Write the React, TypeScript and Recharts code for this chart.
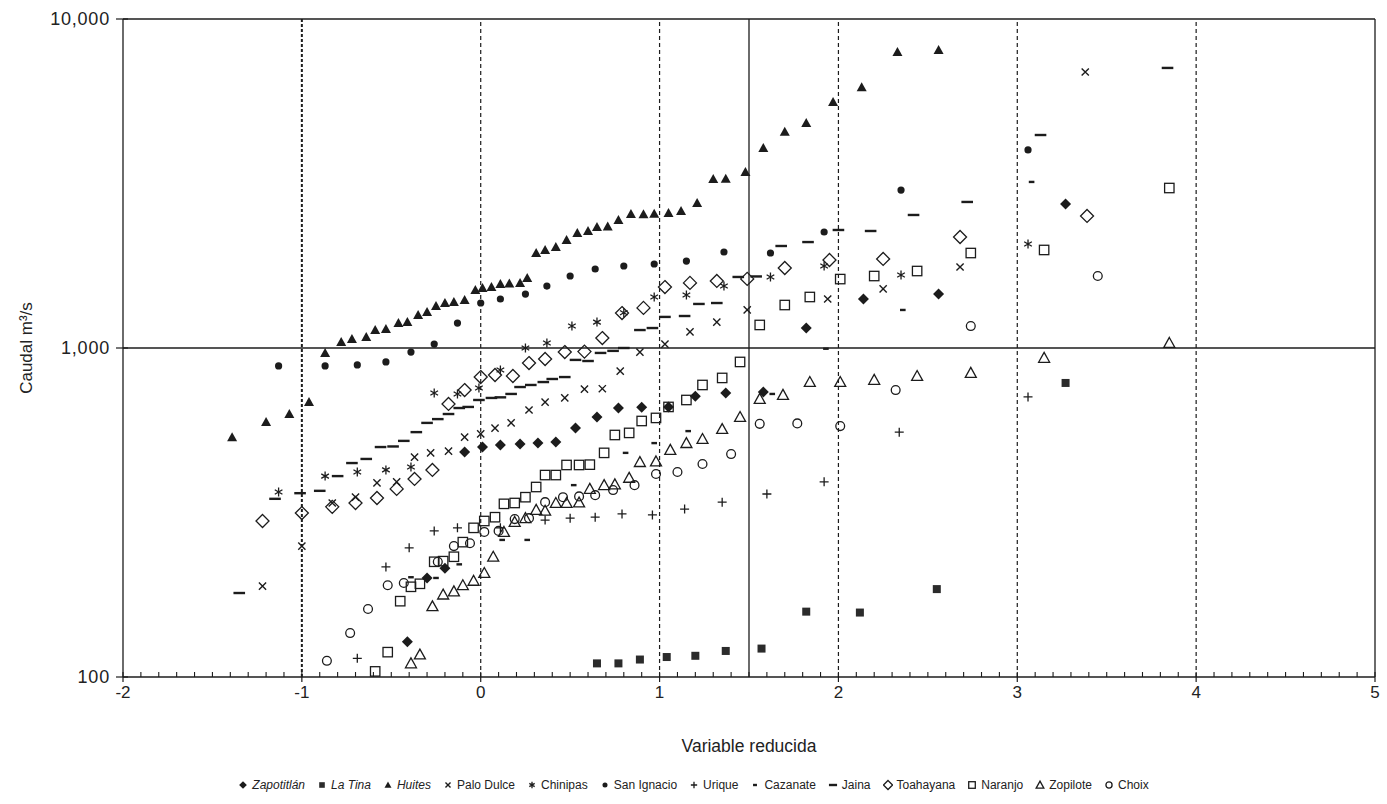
import React from 'react';
import { ScatterChart, Scatter, XAxis, YAxis, ReferenceLine } from 'recharts';

const W = 1387;
const H = 804;
const PLOT_LEFT = 123;
const PLOT_RIGHT = 1375;
const PLOT_TOP = 19;
const PLOT_BOTTOM = 677;
const INK = '#1c1c1c';
const FONT = '"Liberation Sans", Arial, Helvetica, sans-serif';

// Variable reducida (x) and Caudal m3/s (y) per station
const zapotitlanX = [-0.41, -0.3, -0.2, -0.09, 0.01, 0.11, 0.22, 0.32, 0.42, 0.53, 0.65, 0.77, 0.9, 1.05, 1.2, 1.37, 1.58, 1.82, 2.14, 2.56, 3.27];
const zapotitlanY = [128, 200, 214, 483, 500, 507, 511, 514, 518, 571, 617, 657, 660, 662, 714, 730, 735, 1150, 1409, 1459, 2740];

const laTinaX = [0.65, 0.77, 0.89, 1.04, 1.2, 1.37, 1.57, 1.82, 2.12, 2.55, 3.27];
const laTinaY = [110, 110, 113, 115, 116, 120, 122, 158, 157, 185, 783];

const huitesX = [-1.39, -1.2, -1.07, -0.96, -0.87, -0.78, -0.72, -0.64, -0.59, -0.53, -0.46, -0.41, -0.35, -0.3, -0.25, -0.2, -0.15, -0.09, -0.03, 0.01, 0.06, 0.11, 0.16, 0.22, 0.26, 0.31, 0.36, 0.42, 0.48, 0.54, 0.6, 0.65, 0.71, 0.77, 0.84, 0.91, 0.97, 1.05, 1.12, 1.21, 1.3, 1.37, 1.48, 1.58, 1.7, 1.82, 1.97, 2.13, 2.33, 2.56];
const huitesY = [535, 596, 630, 685, 966, 1043, 1065, 1080, 1134, 1142, 1191, 1199, 1260, 1286, 1342, 1370, 1380, 1400, 1500, 1521, 1532, 1566, 1570, 1577, 1633, 1944, 1986, 2028, 2128, 2236, 2268, 2333, 2340, 2449, 2554, 2550, 2560, 2572, 2609, 2759, 3265, 3270, 3428, 4055, 4539, 4830, 5597, 6200, 7943, 8050];

const paloDulceX = [-1.22, -1.0, -0.83, -0.7, -0.58, -0.47, -0.37, -0.28, -0.18, -0.09, 0.0, 0.08, 0.17, 0.27, 0.36, 0.47, 0.58, 0.68, 0.78, 0.89, 1.03, 1.17, 1.32, 1.49, 1.94, 2.25, 2.68, 3.38];
const paloDulceY = [189, 250, 338, 352, 389, 392, 466, 480, 486, 536, 548, 571, 592, 648, 685, 705, 750, 752, 851, 972, 1028, 1119, 1199, 1305, 1409, 1512, 1763, 6900];

const chinipasX = [-1.13, -0.87, -0.69, -0.53, -0.39, -0.26, -0.13, -0.01, 0.11, 0.25, 0.37, 0.51, 0.65, 0.8, 0.97, 1.15, 1.36, 1.62, 1.92, 2.35, 3.06];
const chinipasY = [365, 408, 420, 426, 435, 730, 725, 756, 857, 1000, 1036, 1166, 1199, 1280, 1429, 1449, 1543, 1644, 1775, 1667, 2070];

const sanIgnacioX = [-1.13, -0.87, -0.69, -0.53, -0.39, -0.26, -0.13, 0.0, 0.11, 0.25, 0.37, 0.5, 0.64, 0.8, 0.97, 1.15, 1.36, 1.62, 1.92, 2.35, 3.06];
const sanIgnacioY = [882, 882, 888, 907, 972, 1028, 1191, 1370, 1409, 1459, 1543, 1655, 1738, 1775, 1800, 1838, 1958, 1944, 2252, 3020, 4000];

const uriqueX = [-0.69, -0.53, -0.4, -0.26, -0.13, 0.11, 0.36, 0.5, 0.64, 0.79, 0.96, 1.14, 1.35, 1.6, 1.92, 2.34, 3.06];
const uriqueY = [114, 216, 247, 278, 284, 284, 300, 304, 306, 313, 311, 324, 340, 360, 392, 555, 710];

const cazanateX = [-0.39, -0.25, -0.12, 0.12, 0.26, 0.52, 0.81, 0.97, 1.16, 1.63, 1.93, 2.36, 3.08];
const cazanateY = [201, 200, 220, 261, 261, 383, 480, 514, 559, 725, 995, 1305, 3197];

const jainaX = [-1.35, -1.15, -1.01, -0.9, -0.8, -0.72, -0.64, -0.56, -0.49, -0.43, -0.36, -0.3, -0.24, -0.18, -0.12, -0.07, -0.01, 0.06, 0.11, 0.17, 0.22, 0.28, 0.35, 0.4, 0.47, 0.53, 0.6, 0.67, 0.74, 0.8, 0.89, 0.96, 1.03, 1.14, 1.22, 1.32, 1.44, 1.54, 1.68, 1.83, 2.0, 2.18, 2.42, 2.72, 3.13, 3.84];
const jainaY = [180, 348, 362, 368, 408, 447, 460, 500, 502, 522, 555, 592, 608, 630, 657, 662, 695, 705, 708, 725, 761, 772, 788, 805, 816, 920, 913, 966, 980, 1000, 1134, 1150, 1243, 1251, 1361, 1370, 1644, 1650, 2042, 2099, 2284, 2268, 2537, 2779, 4440, 7100];

const toahayanaX = [-1.22, -1.0, -0.83, -0.7, -0.58, -0.47, -0.37, -0.27, -0.18, -0.09, 0.0, 0.08, 0.18, 0.27, 0.36, 0.47, 0.58, 0.68, 0.79, 0.91, 1.03, 1.17, 1.32, 1.49, 1.7, 1.95, 2.25, 2.68, 3.39];
const toahayanaY = [298, 315, 329, 338, 350, 373, 400, 426, 676, 745, 816, 828, 822, 900, 926, 972, 975, 1072, 1277, 1324, 1532, 1577, 1599, 1622, 1750, 1851, 1865, 2175, 2520];

const naranjoX = [-0.59, -0.52, -0.45, -0.39, -0.34, -0.26, -0.21, -0.15, -0.1, -0.04, 0.02, 0.08, 0.13, 0.19, 0.25, 0.31, 0.36, 0.42, 0.48, 0.55, 0.61, 0.69, 0.75, 0.83, 0.9, 0.98, 1.05, 1.15, 1.24, 1.35, 1.45, 1.56, 1.7, 1.84, 2.01, 2.2, 2.44, 2.74, 3.15, 3.85];
const naranjoY = [104, 119, 170, 188, 192, 224, 225, 232, 257, 284, 298, 306, 336, 338, 352, 378, 411, 411, 441, 441, 442, 480, 544, 552, 600, 613, 662, 695, 772, 811, 907, 1175, 1351, 1429, 1620, 1655, 1714, 1944, 1986, 3064];

const zopiloteX = [-0.39, -0.34, -0.27, -0.21, -0.15, -0.1, -0.04, 0.02, 0.07, 0.13, 0.19, 0.25, 0.31, 0.36, 0.42, 0.48, 0.55, 0.61, 0.69, 0.75, 0.83, 0.89, 0.98, 1.06, 1.15, 1.24, 1.35, 1.45, 1.56, 1.69, 1.84, 2.01, 2.2, 2.44, 2.74, 3.15, 3.85];
const zopiloteY = [110, 117, 164, 178, 182, 190, 196, 207, 232, 276, 296, 304, 322, 320, 338, 338, 339, 373, 383, 385, 403, 450, 452, 490, 514, 529, 567, 617, 700, 720, 788, 788, 800, 822, 840, 933, 1036];

const choixX = [-0.86, -0.73, -0.63, -0.52, -0.43, -0.24, -0.15, -0.06, 0.02, 0.1, 0.19, 0.27, 0.36, 0.46, 0.55, 0.64, 0.74, 0.86, 0.98, 1.1, 1.24, 1.4, 1.56, 1.77, 2.01, 2.32, 2.74, 3.45];
const choixY = [112, 136, 161, 190, 193, 224, 250, 255, 276, 278, 302, 304, 340, 352, 354, 357, 370, 383, 414, 420, 444, 476, 588, 590, 579, 745, 1166, 1655];

const xMajorTicks = [-2, -1, 0, 1, 2, 3, 4, 5];
const yTicks = [100, 1000, 10000];
const dashedGridX = [-1, 0, 1, 2, 3, 4];

// minor ticks every 0.1 along the x axis
const xAllTicks = Array.from({ length: 71 }, (_, i) => (i - 20) / 10);

type Kind =
  | 'diamondFill' | 'squareFill' | 'triangleFill' | 'cross' | 'star' | 'dot' | 'plus'
  | 'dashShort' | 'dashLong' | 'diamond' | 'square' | 'triangle' | 'circle';

const series: { name: string; kind: Kind; italic?: boolean; x: number[]; y: number[] }[] = [
  { name: 'Zapotitlán', kind: 'diamondFill', italic: true, x: zapotitlanX, y: zapotitlanY },
  { name: 'La Tina', kind: 'squareFill', italic: true, x: laTinaX, y: laTinaY },
  { name: 'Huites', kind: 'triangleFill', italic: true, x: huitesX, y: huitesY },
  { name: 'Palo Dulce', kind: 'cross', x: paloDulceX, y: paloDulceY },
  { name: 'Chinipas', kind: 'star', x: chinipasX, y: chinipasY },
  { name: 'San Ignacio', kind: 'dot', x: sanIgnacioX, y: sanIgnacioY },
  { name: 'Urique', kind: 'plus', x: uriqueX, y: uriqueY },
  { name: 'Cazanate', kind: 'dashShort', x: cazanateX, y: cazanateY },
  { name: 'Jaina', kind: 'dashLong', x: jainaX, y: jainaY },
  { name: 'Toahayana', kind: 'diamond', x: toahayanaX, y: toahayanaY },
  { name: 'Naranjo', kind: 'square', x: naranjoX, y: naranjoY },
  { name: 'Zopilote', kind: 'triangle', x: zopiloteX, y: zopiloteY },
  { name: 'Choix', kind: 'circle', x: choixX, y: choixY },
];

function Marker({ cx, cy, kind, s = 1 }: { cx: number; cy: number; kind: Kind; s?: number }) {
  const sw = 1.3;
  switch (kind) {
    case 'diamondFill': {
      const r = 5.5 * s;
      return <path d={`M${cx} ${cy - r}L${cx + r} ${cy}L${cx} ${cy + r}L${cx - r} ${cy}Z`} fill={INK} />;
    }
    case 'squareFill': {
      const r = 4 * s;
      return <rect x={cx - r} y={cy - r} width={2 * r} height={2 * r} fill="#2b2b2b" />;
    }
    case 'triangleFill': {
      const r = 5 * s;
      return <path d={`M${cx} ${cy - r}L${cx + r} ${cy + r * 0.8}L${cx - r} ${cy + r * 0.8}Z`} fill={INK} />;
    }
    case 'cross': {
      const r = 3.6 * s;
      return <path d={`M${cx - r} ${cy - r}L${cx + r} ${cy + r}M${cx + r} ${cy - r}L${cx - r} ${cy + r}`} stroke={INK} strokeWidth={1.4} fill="none" />;
    }
    case 'star': {
      const r = 4.5 * s;
      return (
        <path
          d={`M${cx} ${cy - r}V${cy + r}M${cx - r * 0.85} ${cy - r * 0.5}L${cx + r * 0.85} ${cy + r * 0.5}M${cx + r * 0.85} ${cy - r * 0.5}L${cx - r * 0.85} ${cy + r * 0.5}`}
          stroke={INK}
          strokeWidth={1.3}
          fill="none"
        />
      );
    }
    case 'dot':
      return <circle cx={cx} cy={cy} r={3.6 * s} fill={INK} />;
    case 'plus': {
      const r = 4.5 * s;
      return <path d={`M${cx - r} ${cy}H${cx + r}M${cx} ${cy - r}V${cy + r}`} stroke={INK} strokeWidth={1.3} fill="none" />;
    }
    case 'dashShort':
      return <rect x={cx - 2.8 * s} y={cy - 1.2} width={5.6 * s} height={2.4} fill={INK} />;
    case 'dashLong':
      return <rect x={cx - 5.8 * s} y={cy - 1.2} width={11.6 * s} height={2.4} fill={INK} />;
    case 'diamond': {
      const r = 6.5 * s;
      return <path d={`M${cx} ${cy - r}L${cx + r} ${cy}L${cx} ${cy + r}L${cx - r} ${cy}Z`} stroke={INK} strokeWidth={sw} fill="none" />;
    }
    case 'square': {
      const r = 4.7 * s;
      return <rect x={cx - r} y={cy - r} width={2 * r} height={2 * r} stroke={INK} strokeWidth={sw} fill="none" />;
    }
    case 'triangle': {
      const r = 5.5 * s;
      return <path d={`M${cx} ${cy - r}L${cx + r} ${cy + r * 0.8}L${cx - r} ${cy + r * 0.8}Z`} stroke={INK} strokeWidth={sw} fill="none" />;
    }
    case 'circle':
      return <circle cx={cx} cy={cy} r={4.4 * s} stroke={INK} strokeWidth={sw} fill="none" />;
  }
  return null;
}

function XTick(props: any) {
  const { x, payload } = props;
  const v = payload.value as number;
  const major = xMajorTicks.includes(v);
  return (
    <g>
      <line x1={x} x2={x} y1={PLOT_BOTTOM} y2={PLOT_BOTTOM - 5} stroke={INK} strokeWidth={1.1} />
      {major && <line x1={x} x2={x} y1={PLOT_BOTTOM} y2={PLOT_BOTTOM + 5} stroke={INK} strokeWidth={1.2} />}
      {major && (
        <text x={x} y={PLOT_BOTTOM + 21} textAnchor="middle" fontSize={17} fill="#222" fontFamily={FONT}>
          {v}
        </text>
      )}
    </g>
  );
}

function YTick(props: any) {
  const { y, payload } = props;
  const v = payload.value as number;
  return (
    <g>
      <line x1={PLOT_LEFT - 7} x2={PLOT_LEFT + 5} y1={y} y2={y} stroke={INK} strokeWidth={1.2} />
      <text x={PLOT_LEFT - 13} y={y} dy={6} textAnchor="end" fontSize={18} letterSpacing={0.8} fill="#222" fontFamily={FONT}>
        {v.toLocaleString('en-US')}
      </text>
    </g>
  );
}

function Legend() {
  return (
    <div
      style={{
        position: 'absolute',
        top: 778,
        left: 0,
        width: W,
        display: 'flex',
        justifyContent: 'center',
        gap: 12,
        fontFamily: FONT,
        fontSize: 12,
        color: '#222',
      }}
    >
      {series.map((s) => (
        <span key={s.name} style={{ display: 'inline-flex', alignItems: 'center', gap: 4 }}>
          <svg width={10} height={12}>
            <Marker cx={5} cy={6} kind={s.kind} s={0.7} />
          </svg>
          <span style={{ fontStyle: s.italic ? 'italic' : 'normal' }}>{s.name}</span>
        </span>
      ))}
    </div>
  );
}

export default function App() {
  const midY = (PLOT_TOP + PLOT_BOTTOM) / 2;
  return (
    <div style={{ position: 'fixed', left: 0, top: 0, width: W, height: H, background: '#fff' }}>
      <ScatterChart width={W} height={H} margin={{ top: PLOT_TOP, right: W - PLOT_RIGHT, bottom: 0, left: 0 }}>
        <XAxis
          type="number"
          dataKey="x"
          domain={[-2, 5]}
          ticks={xAllTicks}
          interval={0}
          allowDataOverflow
          height={H - PLOT_BOTTOM}
          tickLine={false}
          axisLine={{ stroke: INK, strokeWidth: 1.3 }}
          tick={<XTick />}
          label={() => (
            <text x={(PLOT_LEFT + PLOT_RIGHT) / 2} y={752} textAnchor="middle" fontSize={17.5} fill="#222" fontFamily={FONT}>
              Variable reducida
            </text>
          )}
        />
        <YAxis
          type="number"
          dataKey="y"
          scale="log"
          domain={[100, 10000]}
          ticks={yTicks}
          interval={0}
          allowDataOverflow
          width={PLOT_LEFT}
          tickLine={false}
          axisLine={{ stroke: INK, strokeWidth: 1.3 }}
          tick={<YTick />}
          label={() => (
            <text
              x={26}
              y={midY}
              transform={`rotate(-90 26 ${midY})`}
              textAnchor="middle"
              dominantBaseline="central"
              fontSize={17}
              fill="#222"
              fontFamily={FONT}
            >
              Caudal m³/s
            </text>
          )}
        />
        {dashedGridX.map((v) => (
          <ReferenceLine
            key={v}
            x={v}
            stroke={INK}
            strokeWidth={v === -1 ? 2 : 1.2}
            strokeDasharray={v === -1 ? '3 2' : '4 3'}
          />
        ))}
        <ReferenceLine x={1.5} stroke={INK} strokeWidth={1.3} />
        <ReferenceLine x={5} stroke={INK} strokeWidth={1.3} />
        <ReferenceLine y={1000} stroke={INK} strokeWidth={1.3} />
        <ReferenceLine y={10000} stroke={INK} strokeWidth={1.3} />
        {series.map((s) => (
          <Scatter
            key={s.name}
            name={s.name}
            data={s.x.map((v, i) => ({ x: v, y: s.y[i] }))}
            isAnimationActive={false}
            shape={(p: any) => <Marker cx={p.cx} cy={p.cy} kind={s.kind} />}
          />
        ))}
      </ScatterChart>
      <Legend />
    </div>
  );
}
